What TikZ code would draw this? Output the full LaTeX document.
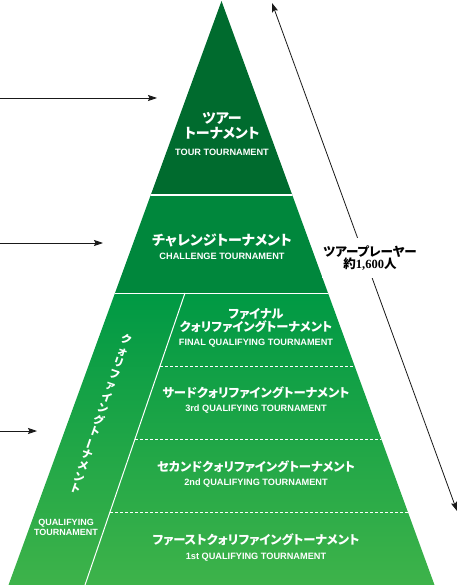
\documentclass[tikz,border=0pt]{standalone}
\usepackage{fontspec}
\setmainfont{Liberation Sans}
\newfontfamily\jp[RawFeature=+palt]{Noto Sans CJK JP}
\newfontfamily\jpv{Noto Sans CJK JP}
\newfontfamily\serifnum{Liberation Serif}
\usetikzlibrary{arrows.meta,calc}
\definecolor{tourG}{HTML}{006B2E}
\definecolor{chalG}{HTML}{00873C}
\definecolor{qualTop}{HTML}{009944}
\definecolor{qualBot}{HTML}{3EB34A}
\begin{document}
\begin{tikzpicture}[x=1pt,y=-1pt,
 jplab/.style={text=white,font=\jp\bfseries\fontsize{14}{15}\selectfont,inner sep=0pt,align=center},
 jpsmall/.style={text=white,font=\jp\bfseries\fontsize{12.3}{13.5}\selectfont,inner sep=0pt,align=center},
 enlab/.style={text=white,font=\bfseries\fontsize{9.2}{10}\selectfont,inner sep=0pt,align=center},
 sepline/.style={white,line width=1pt},
 dsepline/.style={white,line width=0.8pt,dash pattern=on 3pt off 2pt},
 arr/.style={line width=0.8pt,black!90,-{Stealth[length=9pt,width=6pt,inset=1.5pt]}},
 dblarr/.style={line width=0.8pt,black!90,{Stealth[length=9pt,width=6pt,inset=1.5pt]}-{Stealth[length=9pt,width=6pt,inset=1.5pt]}}
]
\useasboundingbox (0,0) rectangle (459,585);
\coordinate (apex) at (221.5,1);
\coordinate (bl) at (8.5,585);
\coordinate (br) at (434.5,585);
\coordinate (s1) at (185,293);
\coordinate (s2) at (85,585);
\begin{scope}
\clip (apex) -- (br) -- (bl) -- cycle;
\fill[tourG] (0,0) rectangle (459,195);
\fill[chalG] (0,195) rectangle (459,293);
\shade[top color=qualTop,bottom color=qualBot] (0,293) rectangle (459,586);
\draw[sepline] (0,195) -- (459,195);
\draw[sepline] (0,293) -- (459,293);
\draw[sepline] (s1) -- (s2);
\foreach \t in {0.25,0.5,0.75} \draw[dsepline] ($(s1)!\t!(s2)$) -- ++(300,0);
\end{scope}

\node[jplab] (tourjp) at (222,125.5) {ツアー\\トーナメント};
\node[enlab] (touren) at (222,152) {TOUR TOURNAMENT};
\node[jplab] (chaljp) at (222,240) {チャレンジトーナメント};
\node[enlab] (chalen) at (222,256) {CHALLENGE TOURNAMENT};
\node[jpsmall] (finjp) at (256,320.5) {ファイナル\\クォリファイングトーナメント};
\node[enlab] (finen) at (256,343) {FINAL QUALIFYING TOURNAMENT};
\node[jpsmall] (thrjp) at (256,393) {サードクォリファイングトーナメント};
\node[enlab] (thren) at (256,409) {3rd QUALIFYING TOURNAMENT};
\node[jpsmall] (secjp) at (256,467) {セカンドクォリファイングトーナメント};
\node[enlab] (secen) at (256,483) {2nd QUALIFYING TOURNAMENT};
\node[jpsmall] (fstjp) at (256,540) {ファーストクォリファイングトーナメント};
\node[enlab] (fsten) at (256,557) {1st QUALIFYING TOURNAMENT};
\node[enlab,font=\bfseries\fontsize{9}{10}\selectfont] (qualen) at (66,527) {QUALIFYING\\TOURNAMENT};
\node[rotate=-19,text=white,font=\jpv\bfseries\fontsize{11}{12.1}\selectfont,align=center,inner sep=0pt] (qualv) at (101,414)
 {ク\\ォ\\リ\\フ\\ァ\\イ\\ン\\グ\\ト\\\rotatebox[origin=c]{90}{ー}\\ナ\\メ\\ン\\ト};

\coordinate (ptop) at (272,3);
\coordinate (pbot) at (457,511);
\draw[dblarr] (ptop) -- (pbot);
\node[fill=white,inner xsep=1pt,inner ysep=7pt,align=center,font=\jp\bfseries\fontsize{12.5}{11.5}\selectfont] (players) at (370,258)
 {ツアープレーヤー\\約{\serifnum\bfseries 1,600}人};

\coordinate (l1) at (0,98);  \coordinate (t1) at (157,98);
\coordinate (l2) at (0,243); \coordinate (t2) at (103,243);
\coordinate (l3) at (0,431); \coordinate (t3) at (37,431);
\draw[arr] (l1) -- (t1);
\draw[arr] (l2) -- (t2);
\draw[arr] (l3) -- (t3);
\end{tikzpicture}
\end{document}
